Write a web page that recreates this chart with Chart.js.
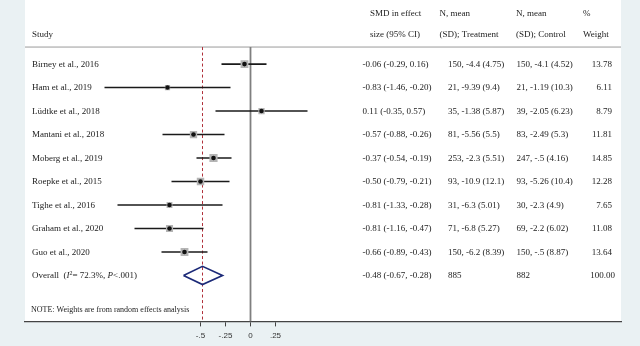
<!DOCTYPE html>
<html><head><meta charset="utf-8">
<script src="https://cdn.jsdelivr.net/npm/chart.js@4.4.1/dist/chart.umd.min.js"></script>
<style>html,body{margin:0;padding:0;background:#eaf1f3;}#wrap{width:640px;height:346px;position:relative}</style>
</head><body><div id="wrap"><canvas id="c" width="640" height="346"></canvas></div>
<script>
// ---- data ----
const studies = ['Birney et al., 2016','Ham et al., 2019','Lüdtke et al., 2018','Mantani et al., 2018','Moberg et al., 2019','Roepke et al., 2015','Tighe et al., 2016','Graham et al., 2020','Guo et al., 2020'];
const smd    = [-0.06, -0.83, 0.11, -0.57, -0.37, -0.50, -0.81, -0.81, -0.66];
const ciLow  = [-0.29, -1.46, -0.35, -0.88, -0.54, -0.79, -1.33, -1.16, -0.89];
const ciHigh = [ 0.16, -0.20,  0.57, -0.26, -0.19, -0.21, -0.28, -0.47, -0.43];
const treatment = ['150, -4.4 (4.75)','21, -9.39 (9.4)','35, -1.38 (5.87)','81, -5.56 (5.5)','253, -2.3 (5.51)','93, -10.9 (12.1)','31, -6.3 (5.01)','71, -6.8 (5.27)','150, -6.2 (8.39)'];
const control   = ['150, -4.1 (4.52)','21, -1.19 (10.3)','39, -2.05 (6.23)','83, -2.49 (5.3)','247, -.5 (4.16)','93, -5.26 (10.4)','30, -2.3 (4.9)','69, -2.2 (6.02)','150, -.5 (8.87)'];
const weights = [13.78, 6.11, 8.79, 11.81, 14.85, 12.28, 7.65, 11.08, 13.64];
const overallEst = -0.48, overallLow = -0.67, overallHigh = -0.28;
const overallTreatment = '885', overallControl = '882', overallWeight = '100.00';
const heterogeneityI2 = '72.3%', heterogeneityP = '<.001';
const tickValues = [-0.5, -0.25, 0, 0.25];
const tickLabels = ['-.5', '-.25', '0', '.25'];
const noteText = 'NOTE: Weights are from random effects analysis';

// ---- layout constants (scale units) ----
const X_MIN = -2.255, X_MAX = 3.705;
const Y_MIN = -1.728, Y_MAX = 11.955;
const HEAD1 = -1.131, HEAD2 = -0.236, RULE = 0.275, NOTE_Y = 11.486;
const OVERALL_ROW = studies.length + 1;
const DIAMOND_H = 0.39;

const rows = studies.map((s, i) => i + 1);
const fmt = v => v.toFixed(2);

const datasets = [];
// black centre dots
datasets.push({type:'scatter', data: smd.map((v,i)=>({x:v, y:rows[i]})), pointStyle:'circle', pointRadius:2.3, pointBackgroundColor:'#111', pointBorderWidth:0, order:0});
// gray weight squares
datasets.push({type:'scatter', data: smd.map((v,i)=>({x:v, y:rows[i]})), pointStyle:'rect', pointRadius: c => 1.5*Math.sqrt(weights[c.dataIndex]), pointBackgroundColor:'#b5b5b5', pointBorderWidth:0, order:1});
// CI lines
studies.forEach((s,i)=>{
  datasets.push({type:'scatter', showLine:true, data:[{x:ciLow[i],y:rows[i]},{x:ciHigh[i],y:rows[i]}], borderColor:'#1a1a1a', borderWidth:1.6, pointRadius:0, order:2});
});
// overall diamond
datasets.push({type:'scatter', showLine:true, data:[
  {x:overallLow,y:OVERALL_ROW},{x:overallEst,y:OVERALL_ROW-DIAMOND_H},{x:overallHigh,y:OVERALL_ROW},{x:overallEst,y:OVERALL_ROW+DIAMOND_H},{x:overallLow,y:OVERALL_ROW}],
  borderColor:'#1c2a78', borderWidth:1.7, pointRadius:0, order:3});
// overall estimate dashed line
datasets.push({type:'scatter', showLine:true, data:[{x:overallEst,y:RULE},{x:overallEst,y:Y_MAX}], borderColor:'#b0303a', borderWidth:1, borderDash:[3,2.5], pointRadius:0, order:4});
// zero line
datasets.push({type:'scatter', showLine:true, data:[{x:0,y:RULE},{x:0,y:Y_MAX}], borderColor:'#7f7f7f', borderWidth:1.8, pointRadius:0, order:5});
// header rule
datasets.push({type:'scatter', showLine:true, data:[{x:X_MIN,y:RULE},{x:X_MAX,y:RULE}], borderColor:'#9a9a9a', borderWidth:1, pointRadius:0, order:6});

const SERIF = '"Liberation Serif", "Times New Roman", serif';

const bgPlugin = {
  id:'bg',
  beforeDraw(chart){
    const {ctx, chartArea:a} = chart;
    ctx.save();
    ctx.fillStyle = '#ffffff';
    ctx.fillRect(a.left, a.top, a.right - a.left, a.bottom - a.top);
    ctx.restore();
  }
};

const tablePlugin = {
  id:'table',
  afterDatasetsDraw(chart){
    const {ctx, scales:{y}} = chart;
    const py = v => y.getPixelForValue(v);
    ctx.save();
    ctx.fillStyle = '#222';
    ctx.textBaseline = 'middle';
    ctx.font = '9px ' + SERIF;
    ctx.textAlign = 'left';
    // headers
    ctx.fillText('Study', 32, py(HEAD2));
    ctx.fillText('SMD in effect', 370, py(HEAD1));
    ctx.fillText('size (95% CI)', 370, py(HEAD2));
    ctx.fillText('N, mean', 439.5, py(HEAD1));
    ctx.fillText('(SD); Treatment', 439.5, py(HEAD2));
    ctx.fillText('N, mean', 516, py(HEAD1));
    ctx.fillText('(SD); Control', 516, py(HEAD2));
    ctx.fillText('%', 583, py(HEAD1));
    ctx.fillText('Weight', 583, py(HEAD2));
    // rows
    studies.forEach((s,i)=>{
      const yy = py(rows[i]) + 0.5;
      ctx.textAlign = 'left';
      ctx.fillText(s, 32, yy);
      ctx.fillText(fmt(smd[i]) + ' (' + fmt(ciLow[i]) + ', ' + fmt(ciHigh[i]) + ')', 362.5, yy);
      ctx.fillText(treatment[i], 448, yy);
      ctx.fillText(control[i], 516.5, yy);
      ctx.textAlign = 'right';
      ctx.fillText(weights[i].toFixed(2), 612, yy);
    });
    // overall row
    const oy = py(OVERALL_ROW) + 0.5;
    ctx.textAlign = 'left';
    let x = 32;
    const seg = (t, font, dy) => { ctx.font = font; ctx.fillText(t, x, oy + (dy||0)); x += ctx.measureText(t).width; };
    seg('Overall  (', '9px ' + SERIF);
    seg('I', 'italic 9px ' + SERIF);
    seg('2', '6px ' + SERIF, -3);
    seg('= ' + heterogeneityI2 + ', ', '9px ' + SERIF);
    seg('P', 'italic 9px ' + SERIF);
    seg(heterogeneityP + ')', '9px ' + SERIF);
    ctx.font = '9px ' + SERIF;
    ctx.fillText(fmt(overallEst) + ' (' + fmt(overallLow) + ', ' + fmt(overallHigh) + ')', 362.5, oy);
    ctx.fillText(overallTreatment, 448, oy);
    ctx.fillText(overallControl, 516.5, oy);
    ctx.textAlign = 'right';
    ctx.fillText(overallWeight, 615, oy);
    // note
    ctx.textAlign = 'left';
    ctx.font = '8px ' + SERIF;
    ctx.fillText(noteText, 31, py(NOTE_Y));
    ctx.restore();
  }
};

new Chart(document.getElementById('c'), {
  type:'scatter',
  data:{datasets},
  options:{
    responsive:false,
    animation:false,
    devicePixelRatio:1,
    layout:{autoPadding:false, padding:{left:25, right:19, top:0, bottom:0}},
    plugins:{legend:{display:false}, tooltip:{enabled:false}},
    scales:{
      x:{
        type:'linear', min:X_MIN, max:X_MAX, position:'bottom',
        afterBuildTicks: s => { s.ticks = tickValues.map(v => ({value:v})); },
        ticks:{
          callback: (v) => { const k = tickValues.indexOf(v); return k >= 0 ? tickLabels[k] : ''; },
          font:{family:'"Liberation Sans", Arial, sans-serif', size:8}, color:'#333', padding:5, maxRotation:0, autoSkip:false
        },
        grid:{drawOnChartArea:false, drawTicks:true, tickLength:5, tickColor:'#444', tickWidth:1},
        border:{display:true, color:'#444', width:1.3}
      },
      y:{type:'linear', min:Y_MIN, max:Y_MAX, reverse:true, display:false}
    }
  },
  plugins:[bgPlugin, tablePlugin]
});
</script>
</body></html>
